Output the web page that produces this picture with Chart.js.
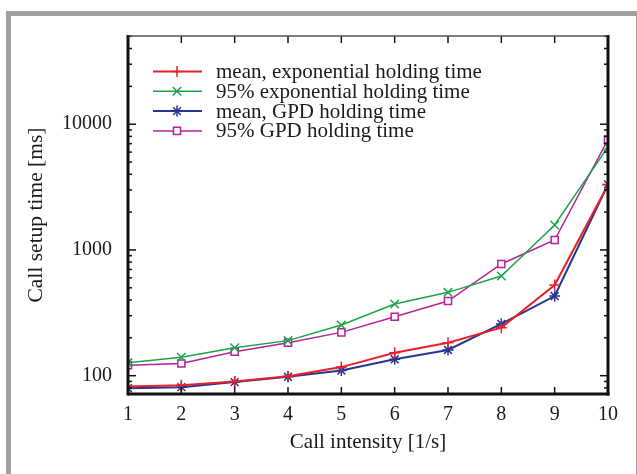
<!DOCTYPE html>
<html>
<head>
<meta charset="utf-8">
<script src="https://cdn.jsdelivr.net/npm/chart.js@4.4.1/dist/chart.umd.min.js"></script>
<style>
html, body { margin: 0; padding: 0; background: #fff; overflow: hidden; }
#moldura { position: absolute; left: 6px; top: 11px; width: 635px; height: 520px; border: 5px solid #a0a0a0; box-sizing: border-box; }
#grafico { position: absolute; left: 0; top: 0; }
</style>
</head>
<body>
<div id="moldura"></div>
<canvas id="grafico" width="637" height="474"></canvas>
<script>
// Dados
const intensidade = [1, 2, 3, 4, 5, 6, 7, 8, 9, 10];
const mediaExp = [82, 84, 90, 99, 117, 152, 183, 241, 526, 3300];
const p95Exp = [127, 140, 167, 190, 253, 372, 460, 621, 1578, 6600];
const mediaGpd = [79.5, 81, 89, 98, 110, 135, 160, 258, 430, 3320];
const p95Gpd = [121, 125, 155, 183, 221, 294, 392, 773, 1199, 7550];
const ticksY = [100, 1000, 10000];

const fonte = "'Liberation Serif', 'Times New Roman', serif";
const corTexto = '#1a1a1a';

function serie(label, valores, cor, largura, estilo, raio) {
    return {
        label: label,
        data: intensidade.map((x, i) => ({ x: x, y: valores[i] })),
        borderColor: cor,
        borderWidth: largura,
        pointStyle: estilo,
        pointRadius: raio,
        pointBorderWidth: 1.5,
        pointBorderColor: cor,
        pointBackgroundColor: '#fff',
        tension: 0,
        fill: false
    };
}

// Moldura, marcas internas e legenda
const molduraETicks = {
    id: 'molduraETicks',
    afterDatasetsDraw(chart) {
        const { ctx, chartArea: a, scales: { x, y } } = chart;
        const linha = (x1, y1, x2, y2) => { ctx.beginPath(); ctx.moveTo(x1, y1); ctx.lineTo(x2, y2); ctx.stroke(); };
        ctx.save();
        ctx.strokeStyle = '#111';
        ctx.lineWidth = 1.5;
        intensidade.forEach(v => {
            const px = x.getPixelForValue(v);
            linha(px, a.bottom, px, a.bottom - 7);
            linha(px, a.top, px, a.top + 7);
        });
        for (let dec = 10; dec <= 100000; dec *= 10) {
            for (let m = 1; m < 10; m++) {
                const v = dec * m;
                if (v < y.min || v > y.max) continue;
                const py = y.getPixelForValue(v);
                const len = m === 1 ? 8 : 4;
                linha(a.left, py, a.left + len, py);
                linha(a.right, py, a.right - len, py);
            }
        }
        ctx.strokeStyle = '#555';
        ctx.lineWidth = 1.5;
        linha(a.left, a.top, a.right, a.top);
        ctx.strokeStyle = '#111';
        ctx.lineWidth = 3;
        linha(a.left, a.top - 1, a.left, a.bottom + 1.5);
        linha(a.right, a.top - 1, a.right, a.bottom + 1.5);
        linha(a.left, a.bottom, a.right + 1.5, a.bottom);

        // legenda
        ctx.font = '21px ' + fonte;
        ctx.textBaseline = 'middle';
        ctx.textAlign = 'left';
        chart.data.datasets.forEach((ds, i) => {
            const yy = a.top + 35.5 + i * 19.8;
            ctx.strokeStyle = ds.borderColor;
            ctx.lineWidth = ds.borderWidth;
            linha(a.left + 25, yy, a.left + 74, yy);
            ctx.fillStyle = '#fff';
            ctx.lineWidth = ds.pointBorderWidth;
            Chart.helpers.drawPoint(ctx, { pointStyle: ds.pointStyle, radius: ds.pointRadius, borderWidth: ds.pointBorderWidth, rotation: 0 }, a.left + 49, yy);
            ctx.fillStyle = corTexto;
            ctx.fillText(ds.label, a.left + 88, yy + 1);
        });
        ctx.restore();
    }
};

new Chart(document.getElementById('grafico'), {
    type: 'line',
    data: {
        datasets: [
            serie('mean, exponential holding time', mediaExp, '#e8202a', 2, 'cross', 5.5),
            serie('95% exponential holding time', p95Exp, '#1fa34a', 1.5, 'crossRot', 6),
            serie('mean, GPD holding time', mediaGpd, '#283593', 2, 'star', 5.5),
            serie('95% GPD holding time', p95Gpd, '#b8219c', 1.5, 'rect', 5)
        ]
    },
    options: {
        responsive: false,
        animation: false,
        layout: { padding: { left: 0, right: 29, top: 36, bottom: 0 } },
        plugins: { legend: { display: false }, tooltip: { enabled: false } },
        scales: {
            x: {
                type: 'linear',
                min: 1,
                max: 10,
                afterFit: s => { s.height = 80; },
                afterBuildTicks: s => { s.ticks = intensidade.map(v => ({ value: v })); },
                grid: { display: false, drawTicks: false },
                border: { display: false },
                ticks: { color: corTexto, font: { family: fonte, size: 20 }, padding: 9, maxRotation: 0 },
                title: { display: true, text: 'Call intensity [1/s]', color: corTexto, font: { family: fonte, size: 21 }, padding: { top: 0, bottom: 19 } }
            },
            y: {
                type: 'logarithmic',
                min: 71.5,
                max: 50300,
                afterFit: s => { s.width = 128; },
                afterBuildTicks: s => { s.ticks = ticksY.map(v => ({ value: v })); },
                grid: { display: false, drawTicks: false },
                border: { display: false },
                ticks: { color: corTexto, font: { family: fonte, size: 20 }, padding: 16, callback: v => String(v) },
                title: { display: true, text: 'Call setup time [ms]', color: corTexto, font: { family: fonte, size: 21.5 }, padding: { top: 23, bottom: 0 } }
            }
        }
    },
    plugins: [molduraETicks]
});
</script>
</body>
</html>
